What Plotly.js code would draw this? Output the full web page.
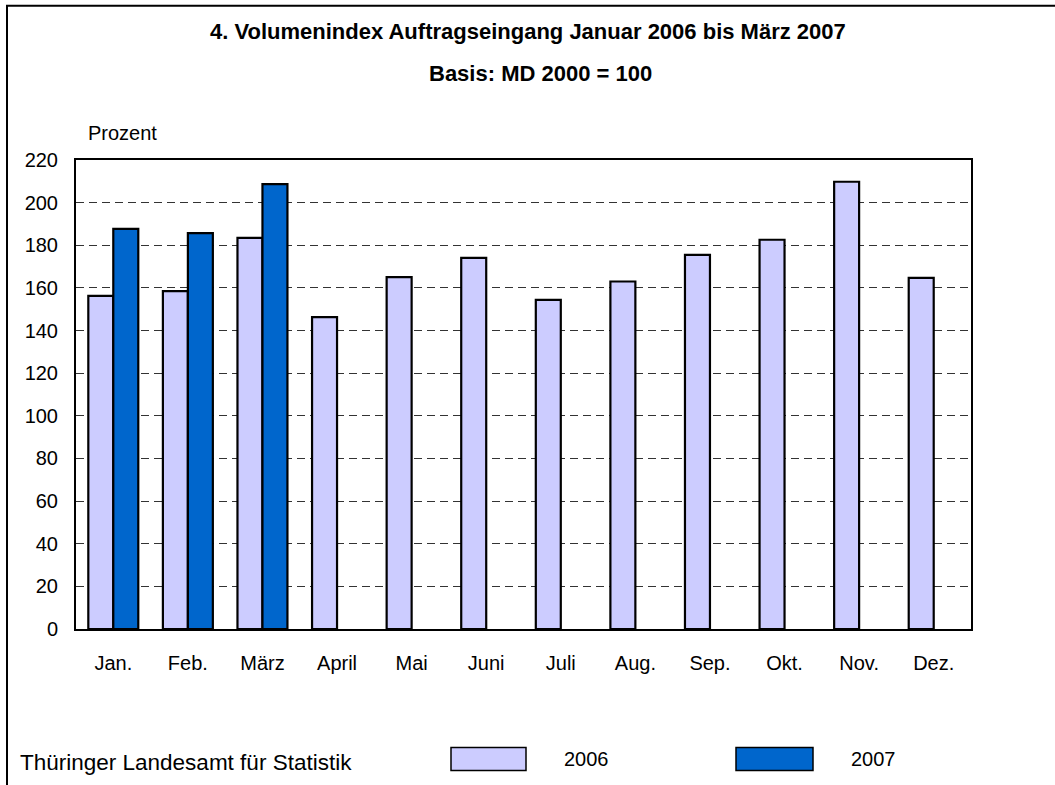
<!DOCTYPE html>
<html>
<head>
<meta charset="utf-8">
<script src="https://cdn.plot.ly/plotly-3.0.1.min.js"></script>
<style>
  html, body { margin: 0; padding: 0; background: #fff; }
  #chart { width: 1055px; height: 785px; }
</style>
</head>
<body>
<div id="chart"></div>
<script>
// ---- data ----
const months = ['Jan.', 'Feb.', 'März', 'April', 'Mai', 'Juni', 'Juli', 'Aug.', 'Sep.', 'Okt.', 'Nov.', 'Dez.'];
const seriesNames = ['2006', '2007'];
const values2006 = [156.3, 158.5, 183.5, 146.3, 165.1, 174.1, 154.4, 163.0, 175.5, 182.6, 209.8, 164.7];
const values2007 = [187.7, 185.7, 208.7, null, null, null, null, null, null, null, null, null];
const yTicks = [0, 20, 40, 60, 80, 100, 120, 140, 160, 180, 200, 220];
const titleLine1 = '4. Volumenindex Auftragseingang Januar 2006 bis März 2007';
const titleLine2 = 'Basis: MD 2000 = 100';
const yUnit = 'Prozent';
const sourceText = 'Thüringer Landesamt für Statistik';

// ---- layout geometry (pixels) ----
const W = 1055, H = 785;
const L = 76, R = 971, T = 160, B = 628.6;
const px = x => (x - L) / (R - L);
const py = y => (B - y) / (B - T);

const font = 'Liberation Sans, Arial, sans-serif';
const colors = ['#CCCCFF', '#0066CC'];

const traces = [
  { type: 'bar', name: seriesNames[0], x: months, y: values2006,
    marker: { color: colors[0], line: { color: '#000', width: 2.2 } }, hoverinfo: 'x+y' },
  { type: 'bar', name: seriesNames[1], x: months, y: values2007,
    marker: { color: colors[1], line: { color: '#000', width: 2.2 } }, hoverinfo: 'x+y' }
];

const shapes = [
  // outer frame (left + top)
  { type: 'path', xref: 'paper', yref: 'paper',
    path: `M ${px(7)},${py(800)} L ${px(7)},${py(6)} L ${px(1060)},${py(6)}`,
    line: { color: '#000', width: 2 } },
  // legend boxes
  { type: 'rect', xref: 'paper', yref: 'paper', x0: px(451), x1: px(526), y0: py(770), y1: py(747),
    fillcolor: colors[0], line: { color: '#000', width: 1.5 } },
  { type: 'rect', xref: 'paper', yref: 'paper', x0: px(736), x1: px(813), y0: py(770), y1: py(747),
    fillcolor: colors[1], line: { color: '#000', width: 1.5 } }
];

const annotations = [
  { text: '<b>' + titleLine1 + '</b>', xref: 'paper', yref: 'paper', x: px(527.5), y: py(32), xanchor: 'center', yanchor: 'middle',
    showarrow: false, font: { family: font, size: 22, color: '#000' } },
  { text: '<b>' + titleLine2 + '</b>', xref: 'paper', yref: 'paper', x: px(540), y: py(74), xanchor: 'center', yanchor: 'middle',
    showarrow: false, font: { family: font, size: 22, color: '#000' } },
  { text: yUnit, xref: 'paper', yref: 'paper', x: px(86), y: py(133), xanchor: 'left', yanchor: 'middle',
    showarrow: false, font: { family: font, size: 20, color: '#000' } },
  { text: sourceText, xref: 'paper', yref: 'paper', x: px(18), y: py(762), xanchor: 'left', yanchor: 'middle',
    showarrow: false, font: { family: font, size: 22.5, color: '#000' } },
  { text: seriesNames[0], xref: 'paper', yref: 'paper', x: px(562), y: py(758), xanchor: 'left', yanchor: 'middle',
    showarrow: false, font: { family: font, size: 20, color: '#000' } },
  { text: seriesNames[1], xref: 'paper', yref: 'paper', x: px(849), y: py(758), xanchor: 'left', yanchor: 'middle',
    showarrow: false, font: { family: font, size: 20, color: '#000' } }
];

const layout = {
  width: W, height: H,
  margin: { l: L, r: W - R, t: T, b: H - B, pad: 0 },
  paper_bgcolor: '#fff', plot_bgcolor: '#fff',
  showlegend: false,
  barmode: 'group', bargap: 0.33, bargroupgap: 0,
  font: { family: font, size: 20, color: '#000' },
  xaxis: {
    type: 'category', showgrid: false, zeroline: false,
    showline: true, linecolor: '#000', linewidth: 2, mirror: true,
    ticks: '', ticklabelstandoff: 15,
    tickfont: { family: font, size: 20, color: '#000' }
  },
  yaxis: {
    range: [0, 220], tickvals: yTicks, ticktext: yTicks.map(String),
    showgrid: true, gridcolor: '#333', gridwidth: 1, griddash: '8px,5px',
    zeroline: false, showline: true, linecolor: '#000', linewidth: 2, mirror: true,
    ticks: '', ticklabelstandoff: 12,
    tickfont: { family: font, size: 20, color: '#000' }
  },
  shapes: shapes,
  annotations: annotations
};

Plotly.newPlot('chart', traces, layout, { displayModeBar: false, staticPlot: true });
</script>
</body>
</html>
